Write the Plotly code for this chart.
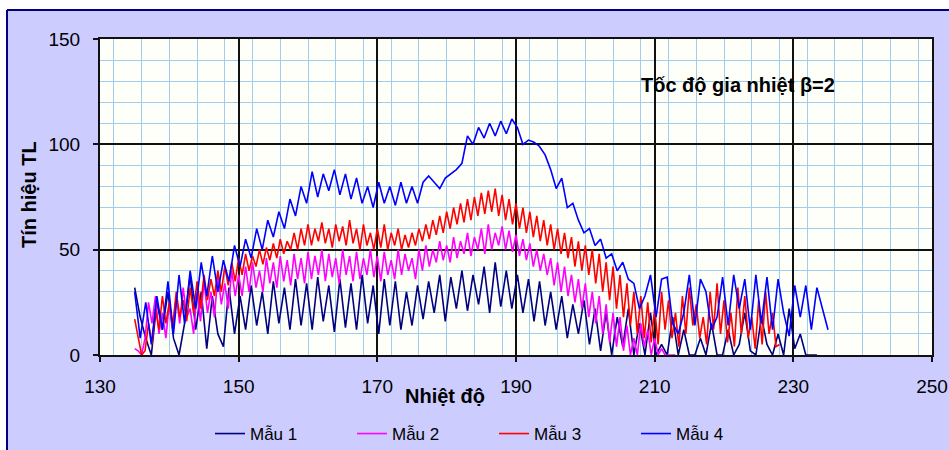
import plotly.graph_objects as go

# ---- data ----
series_names = ["Mẫu 1", "Mẫu 2", "Mẫu 3", "Mẫu 4"]
x_ticks = [130, 150, 170, 190, 210, 230, 250]
y_ticks = [0, 50, 100, 150]

# Mẫu 1 and Mẫu 4 sampled every 0.8 degree starting at 135
mau1 = [32, 18, 8, 0, 25, 12, 30, 8, 0, 15,
        38, 12, 30, 3, 28, 10, 4, 32, 10, 28,
        12, 33, 14, 30, 10, 35, 15, 32, 12, 36,
        14, 34, 12, 37, 16, 33, 11, 36, 13, 34,
        12, 38, 15, 33, 10, 36, 14, 35, 12, 30,
        14, 33, 17, 35, 20, 38, 16, 37, 22, 40,
        21, 38, 24, 42, 20, 44, 23, 40, 22, 38,
        20, 36, 16, 35, 14, 30, 12, 28, 8, 24,
        10, 26, 5, 22, 2, 20, 0, 18, 4, 22,
        0, 15, 0, 20, 0, 5, 0, 18, 0, 12,
        0, 0, 8, 0, 15, 0, 0, 12, 0, 5,
        20, 2, 0, 18, 5, 0, 10, 0, 22, 3,
        10, 0, 0, 0]

mau4 = [30, 8, 25, 5, 28, 12, 35, 10, 38, 15,
        40, 22, 44, 28, 47, 30, 45, 35, 52, 42,
        55, 46, 60, 50, 64, 56, 68, 60, 74, 66,
        80, 72, 87, 75, 86, 78, 88, 76, 86, 74,
        84, 72, 80, 70, 82, 72, 80, 71, 82, 72,
        80, 72, 82, 85, 82, 79, 84, 86, 88, 91,
        104, 100, 108, 103, 110, 104, 111, 105, 112, 108,
        100, 102, 101, 99, 95, 88, 79, 84, 70, 72,
        64, 58, 60, 52, 55, 46, 48, 40, 44, 36,
        34, 22, 28, 38, 18, 36, 37, 15, 10, 20,
        38, 14, 36, 30, 12, 18, 37, 14, 38, 22,
        36, 12, 38, 15, 37, 12, 36, 20, 9, 33,
        18, 33, 12, 32, 22, 12]

# Mẫu 2 and Mẫu 3 sampled every 0.5 degree starting at 135
mau2 = [3, 2, 0, 8, 25, 15, 28, 10, 20, 8,
        25, 12, 28, 15, 32, 18, 22, 10, 30, 16,
        35, 20, 30, 18, 38, 24, 34, 22, 40, 28,
        38, 28, 42, 30, 44, 32, 40, 30, 46, 34,
        44, 32, 47, 35, 45, 33, 48, 36, 46, 34,
        49, 36, 47, 38, 50, 35, 48, 37, 46, 34,
        50, 38, 47, 35, 49, 36, 46, 38, 50, 37,
        47, 35, 49, 38, 45, 36, 50, 38, 48, 40,
        46, 36, 50, 40, 52, 42, 50, 44, 54, 45,
        52, 44, 56, 46, 54, 48, 58, 47, 56, 50,
        60, 48, 62, 50, 58, 52, 61, 50, 59, 49,
        57, 47, 55, 45, 53, 42, 50, 40, 48, 38,
        46, 33, 44, 30, 42, 28, 38, 25, 36, 22,
        34, 18, 30, 15, 28, 10, 24, 6, 20, 4,
        18, 2, 14, 0, 8, 0, 15, 4, 12, 0,
        8, 0, 3, 0, 0, 0, 0]

mau3 = [17, 8, 0, 2, 15, 5, 22, 12, 28, 15,
        25, 14, 30, 18, 26, 16, 32, 20, 35, 22,
        38, 26, 36, 28, 40, 30, 42, 33, 44, 35,
        46, 38, 48, 40, 47, 42, 50, 43, 51, 45,
        53, 46, 55, 48, 54, 50, 58, 50, 60, 52,
        62, 52, 60, 54, 63, 53, 60, 51, 62, 54,
        61, 52, 64, 53, 60, 50, 62, 52, 58, 50,
        60, 51, 62, 50, 58, 52, 60, 50, 57, 51,
        58, 52, 60, 54, 62, 55, 64, 57, 66, 58,
        68, 60, 70, 62, 72, 63, 74, 64, 75, 66,
        77, 67, 78, 68, 79, 66, 76, 64, 74, 62,
        72, 60, 70, 58, 68, 56, 66, 54, 64, 52,
        62, 50, 60, 48, 58, 46, 56, 42, 54, 40,
        52, 38, 50, 34, 48, 30, 44, 26, 42, 22,
        38, 18, 34, 14, 30, 10, 28, 8, 25, 6,
        22, 5, 30, 12, 26, 8, 20, 4, 28, 10,
        32, 14, 24, 8, 18, 5, 30, 12, 34, 10,
        26, 6, 20, 4, 32, 10, 28, 8, 18, 3,
        26, 5, 30, 10, 20, 4, 5]

start_temp = 135
step_coarse = 0.8
step_fine = 0.5

colors = ["#000080", "#FF00FF", "#FF0000", "#0000FF"]


def temps(n, step):
    return [round(start_temp + step * i, 2) for i in range(n)]


series = [(mau1, step_coarse), (mau2, step_fine), (mau3, step_fine), (mau4, step_coarse)]

fig = go.Figure()
for name, (vals, st), col in zip(series_names, series, colors):
    fig.add_trace(go.Scatter(
        x=temps(len(vals), st), y=vals, mode="lines", name=name,
        line=dict(color=col, width=1.6)))

W, H = 949, 450
ML, MR, MT, MB = 100, 17, 39, 95
PW = W - ML - MR
PH = H - MT - MB


def px(xp):
    return (xp - ML) / PW


def py(yp):
    return (H - MB - yp) / PH


font_family = "Arial, Liberation Sans, sans-serif"
lavender = "#CCCCFF"
navy = "#000080"

fig.update_layout(
    width=W, height=H,
    margin=dict(l=ML, r=MR, t=MT, b=MB, autoexpand=False),
    paper_bgcolor=lavender,
    plot_bgcolor="#FFFFFA",
    showlegend=True,
    legend=dict(
        orientation="h", x=px(210), xanchor="left", y=py(434), yanchor="middle",
        font=dict(family=font_family, size=17, color="black"),
        bgcolor="rgba(0,0,0,0)", entrywidth=97, entrywidthmode="pixels",
        traceorder="normal"),
    xaxis=dict(
        range=[130, 250], tickvals=x_ticks, ticktext=[str(v) for v in x_ticks],
        showgrid=True, gridcolor="#111111", gridwidth=1.5,
        showline=True, linecolor="#111111", linewidth=2, mirror=True,
        ticks="outside", ticklen=5, tickwidth=1.5, tickcolor="#111111",
        tickfont=dict(family=font_family, size=19, color="black"),
        ticklabelstandoff=8, zeroline=False, automargin=False,
        minor=dict(dtick=4, showgrid=True, gridcolor="#9FCDF0", gridwidth=1, ticks=""),
    ),
    yaxis=dict(
        range=[0, 150], tickvals=y_ticks, ticktext=[str(v) for v in y_ticks],
        showgrid=True, gridcolor="#111111", gridwidth=1.5,
        showline=True, linecolor="#111111", linewidth=2, mirror=True,
        ticks="outside", ticklen=5, tickwidth=1.5, tickcolor="#111111",
        tickfont=dict(family=font_family, size=19, color="black"),
        ticklabelstandoff=9, zeroline=False, automargin=False,
        minor=dict(dtick=10, showgrid=True, gridcolor="#9FCDF0", gridwidth=1, ticks=""),
    ),
    shapes=[
        dict(type="rect", xref="paper", yref="paper", x0=px(-20), x1=px(970), y0=py(10), y1=py(-20),
             fillcolor="white", line=dict(width=0), layer="below"),
        dict(type="rect", xref="paper", yref="paper", x0=px(-20), x1=px(7), y0=py(470), y1=py(-20),
             fillcolor="white", line=dict(width=0), layer="below"),
        dict(type="line", xref="paper", yref="paper", x0=px(7), x1=px(970), y0=py(10), y1=py(10),
             line=dict(color=navy, width=2), layer="below"),
        dict(type="line", xref="paper", yref="paper", x0=px(7), x1=px(7), y0=py(10), y1=py(470),
             line=dict(color=navy, width=2), layer="below"),
    ],
    annotations=[
        dict(text="<b>Tín hiệu TL</b>", xref="paper", yref="paper", x=px(29), y=py(195),
             xanchor="center", yanchor="middle", textangle=-90, showarrow=False,
             font=dict(family=font_family, size=20, color="black")),
        dict(text="<b>Nhiệt độ</b>", xref="paper", yref="paper", x=px(445), y=py(396),
             xanchor="center", yanchor="middle", showarrow=False,
             font=dict(family=font_family, size=20, color="black")),
        dict(text="<b>Tốc độ gia nhiệt β=2</b>", xref="paper", yref="paper", x=px(738), y=py(85),
             xanchor="center", yanchor="middle", showarrow=False,
             font=dict(family=font_family, size=20, color="black")),
    ],
)

fig.write_html(
    "out.html",
    config={"displayModeBar": False},
    post_script="document.body.style.margin='0';document.body.style.overflow='hidden';",
)
